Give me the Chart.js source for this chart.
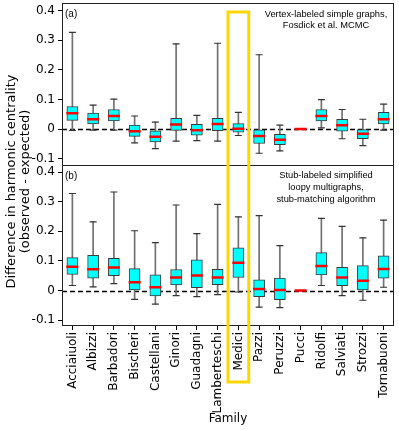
<!DOCTYPE html>
<html>
<head>
<meta charset="utf-8">
<script src="https://cdn.jsdelivr.net/npm/chart.js@4.4.1/dist/chart.umd.min.js"></script>
<style>
	body { margin: 0; background: #fff; }
	canvas { display: block; }
</style>
</head>
<body>
<canvas id="boxChart" width="399" height="430"></canvas>
<script>
// families on the x axis
const families = ['Acciaiuoli', 'Albizzi', 'Barbadori', 'Bischeri', 'Castellani', 'Ginori',
	'Guadagni', 'Lamberteschi', 'Medici', 'Pazzi', 'Peruzzi', 'Pucci', 'Ridolfi',
	'Salviati', 'Strozzi', 'Tornabuoni'];

// (a) vertex-labeled simple graphs
const aLow  = [-0.005, -0.004, -0.004, -0.047, -0.066, -0.041, -0.039, -0.041, -0.022, -0.082, -0.074, 0, 0.004, -0.033, -0.056, -0.004];
const aQ1   = [0.029, 0.017, 0.027, -0.025, -0.044, -0.005, -0.021, -0.006, -0.011, -0.049, -0.053, 0, 0.027, -0.007, -0.033, 0.017];
const aMed  = [0.053, 0.033, 0.044, -0.008, -0.026, 0.015, -0.004, 0.017, 0.001, -0.024, -0.036, 0, 0.044, 0.013, -0.016, 0.033];
const aQ3   = [0.076, 0.054, 0.066, 0.013, -0.006, 0.036, 0.016, 0.036, 0.018, -0.003, -0.018, 0, 0.066, 0.033, -0.002, 0.056];
const aHigh = [0.327, 0.081, 0.101, 0.044, 0.023, 0.288, 0.046, 0.290, 0.056, 0.251, 0.013, 0, 0.099, 0.066, 0.033, 0.084];

// (b) stub-labeled loopy multigraphs
const bLow  = [0.017, 0.012, 0.023, -0.030, -0.046, -0.017, -0.021, -0.014, -0.005, -0.056, -0.058, 0, 0.017, -0.017, -0.033, 0.011];
const bQ1   = [0.054, 0.042, 0.050, 0.000, -0.018, 0.019, 0.010, 0.020, 0.044, -0.021, -0.031, 0, 0.053, 0.016, 0.000, 0.042];
const bMed  = [0.080, 0.072, 0.078, 0.028, 0.011, 0.044, 0.051, 0.044, 0.094, 0.005, 0.002, 0, 0.083, 0.044, 0.033, 0.073];
const bQ3   = [0.111, 0.119, 0.109, 0.074, 0.053, 0.071, 0.104, 0.072, 0.144, 0.036, 0.042, 0, 0.128, 0.078, 0.084, 0.117];
const bHigh = [0.328, 0.232, 0.333, 0.202, 0.162, 0.289, 0.192, 0.291, 0.249, 0.253, 0.152, 0, 0.244, 0.217, 0.178, 0.238];

const yTicks = [-0.1, 0, 0.1, 0.2, 0.3, 0.4];
const highlighted = 'Medici';

const FONT = 'DejaVu Sans';
const NOTE_FONT = 'Liberation Sans';

// build the datasets for one panel
function panelDatasets (axisId, low, q1, med, q3, high) {
	const caps = [];
	families.forEach((f, i) => {
		caps.push({ x: f, y: low[i] });
		caps.push({ x: f, y: high[i] });
	});
	return [
		{
			type: 'bar', yAxisID: axisId, order: 4, grouped: false,
			data: low.map((v, i) => [v, high[i]]),
			backgroundColor: '#707070', barThickness: 1
		},
		{
			type: 'bar', yAxisID: axisId, order: 3, grouped: false,
			data: q1.map((v, i) => [v, q3[i]]),
			backgroundColor: '#00ffff', borderColor: '#3a3a3a', borderWidth: 1,
			borderSkipped: false, barThickness: 11
		},
		{
			type: 'line', yAxisID: axisId, order: 2, showLine: false,
			data: caps,
			pointStyle: 'line', pointRadius: 3.5, pointBorderWidth: 1.2,
			pointBorderColor: '#333', borderColor: '#333'
		},
		{
			type: 'line', yAxisID: axisId, order: 1, showLine: false,
			data: med,
			pointStyle: 'line', pointRadius: 6, pointBorderWidth: 2.5,
			pointBorderColor: '#ff0000', borderColor: '#ff0000'
		}
	];
}

function yAxis () {
	return {
		type: 'linear', position: 'left', stack: 'panels', stackWeight: 1, offset: false,
		min: -0.12, max: 0.426,
		afterBuildTicks: axis => { axis.ticks = yTicks.map(v => ({ value: v })); },
		afterFit: axis => {
			axis.width = 62;
			// no extra room for edge labels
			axis.paddingTop = 0;
			axis.paddingBottom = 0;
		},
		border: { display: false },
		grid: { drawOnChartArea: false, tickLength: 4, color: '#000' },
		ticks: {
			font: { family: FONT, size: 12 }, color: '#000', padding: 3,
			callback: v => (Math.abs(v) < 1e-9 ? '0' : v.toFixed(1))
		}
	};
}

// dashed zero lines, frame, notes and the highlight box
const decorations = {
	id: 'decorations',
	beforeDatasetsDraw (chart) {
		const ctx = chart.ctx;
		const area = chart.chartArea;
		ctx.save();
		ctx.strokeStyle = '#000';
		ctx.lineWidth = 1.5;
		ctx.setLineDash([5, 3]);
		['yA', 'yB'].forEach(id => {
			const y = Math.round(chart.scales[id].getPixelForValue(0)) + 0.5;
			ctx.beginPath();
			ctx.moveTo(area.left, y);
			ctx.lineTo(area.right, y);
			ctx.stroke();
		});
		ctx.restore();
	},
	afterDraw (chart) {
		const ctx = chart.ctx;
		const area = chart.chartArea;
		const yA = chart.scales.yA;
		const yB = chart.scales.yB;
		const x = chart.scales.x;

		ctx.save();
		// frame around both panels
		ctx.strokeStyle = '#222';
		ctx.lineWidth = 1;
		ctx.strokeRect(area.left + 0.5, area.top + 0.5, area.width - 1, area.height - 1);
		ctx.beginPath();
		ctx.moveTo(area.left, Math.round(yA.bottom) + 0.5);
		ctx.lineTo(area.right, Math.round(yA.bottom) + 0.5);
		ctx.stroke();

		// panel notes
		ctx.fillStyle = '#000';
		ctx.font = `10px ${NOTE_FONT}`;
		ctx.textBaseline = 'middle';
		ctx.textAlign = 'left';
		ctx.fillText('(a)', area.left + 3, yA.top + 11);
		ctx.fillText('(b)', area.left + 3, yB.top + 12);

		ctx.font = `9.3px ${NOTE_FONT}`;
		ctx.textAlign = 'center';
		const noteX = area.right - 68;
		ctx.fillText('Vertex-labeled simple graphs,', noteX, yA.top + 11);
		ctx.fillText('Fosdick et al. MCMC', noteX, yA.top + 22);
		ctx.fillText('Stub-labeled simplified', noteX, yB.top + 11);
		ctx.fillText('loopy multigraphs,', noteX, yB.top + 23);
		ctx.fillText('stub-matching algorithm', noteX, yB.top + 35);

		// y axis title, centred over both panels
		ctx.font = `13px ${FONT}`;
		ctx.translate(0, (area.top + area.bottom) / 2 + 17);
		ctx.rotate(-Math.PI / 2);
		ctx.fillText('Difference in harmonic centrality', 0, 12);
		ctx.fillText('(observed - expected)', 0, 26);
		ctx.restore();

		// highlight box round one family
		const i = families.indexOf(highlighted);
		const cx = x.getPixelForValue(i);
		const half = (x.getPixelForValue(1) - x.getPixelForValue(0)) / 2;
		ctx.save();
		ctx.strokeStyle = '#ffd700';
		ctx.lineWidth = 3;
		ctx.strokeRect(cx - half, area.top + 9, half * 2, x.top + 56 - (area.top + 9));
		ctx.restore();
	}
};

const chartEle = document.getElementById('boxChart').getContext('2d');

new Chart(chartEle, {
	type: 'bar',
	data: {
		labels: families,
		datasets: [
			...panelDatasets('yA', aLow, aQ1, aMed, aQ3, aHigh),
			...panelDatasets('yB', bLow, bQ1, bMed, bQ3, bHigh)
		]
	},
	options: {
		responsive: false,
		devicePixelRatio: 1,
		animation: false,
		// the point markers would otherwise push the plot area inwards
		layout: { autoPadding: false, padding: { top: 3, right: 5, left: 0, bottom: 0 } },
		plugins: { legend: { display: false }, tooltip: { enabled: false } },
		scales: {
			// the stack is filled from the bottom, so the lower panel comes first
			yB: yAxis(),
			yA: yAxis(),
			x: {
				type: 'category', offset: true,
				afterFit: axis => {
					axis.height = 104;
					axis.paddingLeft = 0;
					axis.paddingRight = 0;
				},
				border: { display: false },
				grid: { drawOnChartArea: false, offset: false, tickLength: 4, color: '#000' },
				ticks: {
					autoSkip: false, maxRotation: 90, minRotation: 90, padding: 2,
					font: { family: FONT, size: 12 }, color: '#000'
				},
				title: {
					display: true, text: 'Family', color: '#000',
					font: { family: FONT, size: 12 }, padding: { top: 0, bottom: 4 }
				}
			}
		}
	},
	plugins: [decorations]
});
</script>
</body>
</html>
